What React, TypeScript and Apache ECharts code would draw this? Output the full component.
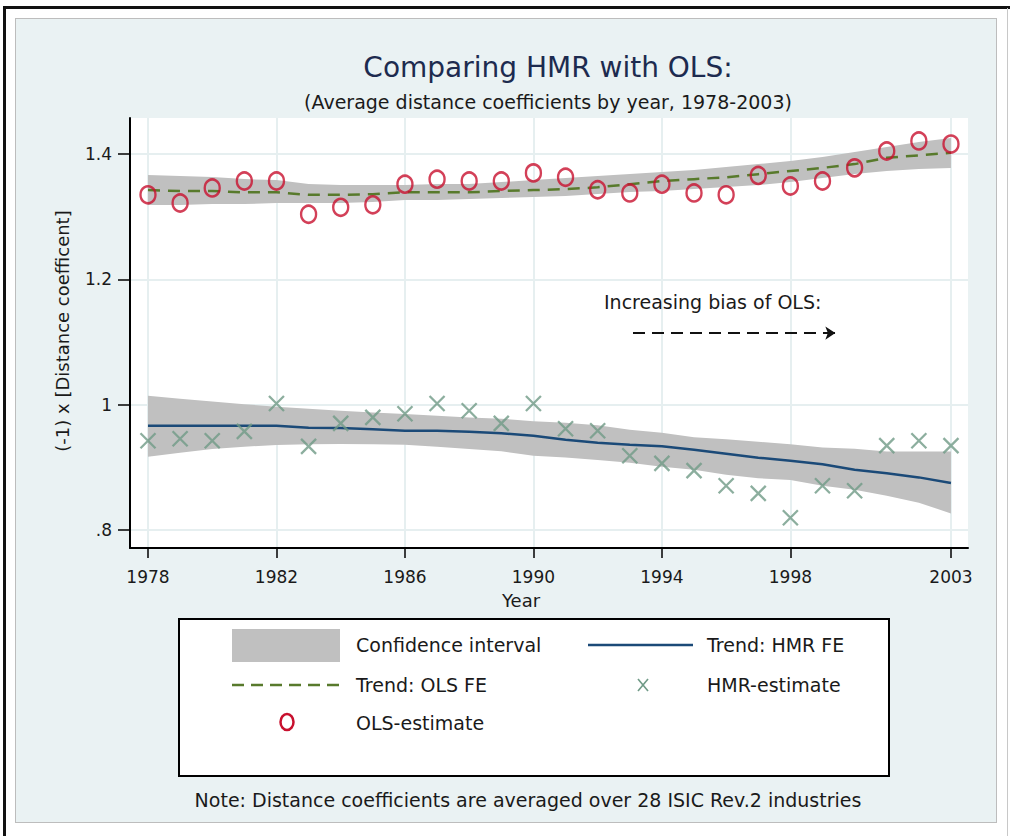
import React, { useEffect, useRef } from "react";
import * as echarts from "echarts";

const years = [1978, 1979, 1980, 1981, 1982, 1983, 1984, 1985, 1986, 1987, 1988, 1989, 1990, 1991, 1992, 1993, 1994, 1995, 1996, 1997, 1998, 1999, 2000, 2001, 2002, 2003];

const olsEstimate = [1.335, 1.322, 1.346, 1.357, 1.357, 1.304, 1.315, 1.319, 1.352, 1.36, 1.357, 1.357, 1.37, 1.363, 1.343, 1.338, 1.352, 1.338, 1.335, 1.366, 1.349, 1.357, 1.378, 1.405, 1.421, 1.416];
const olsTrend = [1.3425, 1.341, 1.341, 1.339, 1.339, 1.335, 1.335, 1.336, 1.339, 1.339, 1.339, 1.341, 1.3425, 1.344, 1.347, 1.352, 1.357, 1.36, 1.363, 1.368, 1.373, 1.378, 1.384, 1.394, 1.398, 1.402];
const olsUpper = [1.3665, 1.3649, 1.3633, 1.3601, 1.3585, 1.3521, 1.3505, 1.3505, 1.3505, 1.3521, 1.3521, 1.3553, 1.3585, 1.3617, 1.3649, 1.3681, 1.3713, 1.3745, 1.3793, 1.384, 1.3888, 1.3952, 1.4032, 1.4112, 1.4192, 1.4255];
const olsLower = [1.3186, 1.3186, 1.3202, 1.3202, 1.3218, 1.3218, 1.3218, 1.3234, 1.3266, 1.3266, 1.3282, 1.3298, 1.3314, 1.333, 1.3362, 1.3393, 1.3409, 1.3441, 1.3473, 1.3505, 1.3553, 1.3617, 1.3681, 1.3729, 1.3761, 1.3777];

const hmrEstimate = [0.9425, 0.9457, 0.9425, 0.9574, 1.002, 0.9334, 0.9702, 0.9797, 0.9856, 1.002, 0.9904, 0.9702, 1.002, 0.9617, 0.9585, 0.9186, 0.9063, 0.8947, 0.8707, 0.8584, 0.8196, 0.8707, 0.8627, 0.9346, 0.9425, 0.9346];
const hmrTrend = [0.9665, 0.9665, 0.9665, 0.9665, 0.9665, 0.9633, 0.9628, 0.9609, 0.9585, 0.9585, 0.9569, 0.9545, 0.9505, 0.9441, 0.9393, 0.9362, 0.9338, 0.9282, 0.9218, 0.9154, 0.9106, 0.905, 0.8962, 0.8907, 0.884, 0.875];
const hmrUpper = [1.0144, 1.0096, 1.0053, 1.0008, 0.9968, 0.9936, 0.9904, 0.9877, 0.9852, 0.9824, 0.9797, 0.9777, 0.9737, 0.9713, 0.9673, 0.9601, 0.9553, 0.9481, 0.9449, 0.9409, 0.937, 0.9318, 0.9298, 0.9255, 0.9255, 0.9255];
const hmrLower = [0.917, 0.9234, 0.9293, 0.933, 0.9357, 0.937, 0.9373, 0.937, 0.9362, 0.933, 0.9293, 0.9258, 0.9186, 0.9159, 0.9117, 0.9074, 0.901, 0.8962, 0.8883, 0.8827, 0.8798, 0.8707, 0.8643, 0.8547, 0.8436, 0.8265];

const xTickYears = [1978, 1982, 1986, 1990, 1994, 1998, 2003];
const yTickValues = [0.8, 1.0, 1.2, 1.4];
const arrowFrom = [1993.1, 1.1143];
const arrowTo = [1999.4, 1.1143];

const FF = "'DejaVu Sans', sans-serif";
const TXT = "#1a1a1a";
const C_BAND = "#c0c0c0";
const C_HMR_LINE = "#1b4a78";
const C_OLS_LINE = "#587a2c";
const C_HMR_PT = "#6f9a86";
const C_OLS_PT = "#c8102e";

function band(name: string, lower: number[], upper: number[]) {
  return {
    type: "custom",
    name,
    z: 1,
    silent: true,
    data: years.map((y, i) => [y, lower[i], upper[i]]),
    encode: { x: 0, y: [1, 2] },
    renderItem: (params: any, api: any) => {
      if (params.dataIndex !== 0) return null;
      const top = years.map((y, i) => api.coord([y, upper[i]]));
      const bottom = years.map((y, i) => api.coord([y, lower[i]])).reverse();
      return {
        type: "polygon",
        shape: { points: top.concat(bottom) },
        style: { fill: C_BAND, stroke: null },
      };
    },
  };
}

function txt(text: string, x: number, y: number, size: number, extra: any = {}) {
  return {
    type: "text",
    x,
    y,
    z: 100,
    silent: true,
    ...extra,
    style: {
      text,
      fontSize: size,
      fontFamily: FF,
      fill: extra.fill || TXT,
      align: extra.align || "left",
      verticalAlign: "middle",
    },
  };
}

export default function App() {
  const ref = useRef<HTMLDivElement>(null);

  useEffect(() => {
    if (!ref.current) return;
    const chart = echarts.init(ref.current, null, { renderer: "svg" });
    const option: any = {
      animation: false,
      backgroundColor: "transparent",
      grid: {
        left: 130,
        top: 118,
        width: 838,
        height: 430,
        show: true,
        backgroundColor: "#ffffff",
        borderWidth: 0,
      },
      xAxis: {
        type: "value",
        min: 1977.44,
        max: 2003.53,
        axisLine: { show: true, onZero: false, lineStyle: { color: "#000", width: 2 } },
        axisTick: { show: true, length: 10, customValues: xTickYears, lineStyle: { color: "#000", width: 1.5 } },
        axisLabel: {
          customValues: xTickYears,
          formatter: (v: number) => String(v),
          fontSize: 17,
          fontFamily: FF,
          color: TXT,
          margin: 20,
        },
        splitLine: { show: true, lineStyle: { color: "#e6eff0", width: 2 } },
      },
      yAxis: {
        type: "value",
        min: 0.7713,
        max: 1.4576,
        axisLine: { show: true, onZero: false, lineStyle: { color: "#000", width: 2 } },
        axisTick: { show: true, length: 12, customValues: yTickValues, lineStyle: { color: "#000", width: 1.5 } },
        axisLabel: {
          customValues: yTickValues,
          formatter: (v: number) => (Math.abs(v - 0.8) < 1e-6 ? ".8" : Math.abs(v - 1) < 1e-6 ? "1" : v.toFixed(1)),
          fontSize: 17,
          fontFamily: FF,
          color: TXT,
          margin: 18,
        },
        splitLine: { show: true, lineStyle: { color: "#e6eff0", width: 2 } },
      },
      series: [
        band("OLS band", olsLower, olsUpper),
        band("HMR band", hmrLower, hmrUpper),
        {
          type: "line",
          name: "Trend: HMR FE",
          z: 2,
          data: years.map((y, i) => [y, hmrTrend[i]]),
          showSymbol: false,
          symbol: "none",
          lineStyle: { color: C_HMR_LINE, width: 2.5 },
        },
        {
          type: "line",
          name: "Trend: OLS FE",
          z: 2,
          data: years.map((y, i) => [y, olsTrend[i]]),
          showSymbol: false,
          symbol: "none",
          lineStyle: { color: C_OLS_LINE, width: 2.5, type: [12, 8] },
          markLine: {
            silent: true,
            symbol: ["none", "arrow"],
            symbolSize: 10,
            label: { show: false },
            lineStyle: { color: "#111", width: 2, type: [12, 7] },
            itemStyle: { color: "#111" },
            data: [[{ coord: arrowFrom }, { coord: arrowTo }]],
          },
        },
        {
          type: "scatter",
          name: "HMR-estimate",
          z: 3,
          data: years.map((y, i) => [y, hmrEstimate[i]]),
          symbol: "path://M0,0L10,10M10,0L0,10",
          symbolSize: 15,
          itemStyle: { color: "rgba(0,0,0,0)", borderColor: C_HMR_PT, borderWidth: 2.3 },
        },
        {
          type: "scatter",
          name: "OLS-estimate",
          z: 4,
          data: years.map((y, i) => [y, olsEstimate[i]]),
          symbol: "circle",
          symbolSize: [15, 17],
          itemStyle: { color: "rgba(0,0,0,0)", borderColor: C_OLS_PT, borderWidth: 2.5 },
        },
      ],
      graphic: [
        txt("Comparing HMR with OLS:", 548, 67, 28, { align: "center", fill: "#1d2b4f" }),
        txt("(Average distance coefficients by year, 1978-2003)", 548, 102, 19, { align: "center" }),
        txt("(-1) x [Distance coefficent]", 62, 331, 18, { align: "center", rotation: Math.PI / 2 }),
        txt("Year", 521, 600, 18, { align: "center" }),
        txt("Increasing bias of OLS:", 604, 302, 19),
        {
          type: "rect",
          silent: true,
          shape: { x: 179, y: 619, width: 710, height: 157 },
          style: { fill: "#ffffff", stroke: "#000", lineWidth: 2 },
        },
        {
          type: "rect",
          silent: true,
          shape: { x: 232, y: 629, width: 108, height: 33 },
          style: { fill: C_BAND },
        },
        txt("Confidence interval", 356, 645, 19),
        {
          type: "line",
          silent: true,
          shape: { x1: 588, y1: 645, x2: 693, y2: 645 },
          style: { stroke: C_HMR_LINE, lineWidth: 2.5 },
        },
        txt("Trend: HMR FE", 707, 645, 19),
        {
          type: "line",
          silent: true,
          shape: { x1: 232, y1: 685, x2: 340, y2: 685 },
          style: { stroke: C_OLS_LINE, lineWidth: 2.5, lineDash: [12, 7] },
        },
        txt("Trend: OLS FE", 356, 685, 19),
        {
          type: "line",
          silent: true,
          shape: { x1: 638, y1: 679, x2: 648, y2: 691 },
          style: { stroke: C_HMR_PT, lineWidth: 1.6 },
        },
        {
          type: "line",
          silent: true,
          shape: { x1: 648, y1: 679, x2: 638, y2: 691 },
          style: { stroke: C_HMR_PT, lineWidth: 1.6 },
        },
        txt("HMR-estimate", 707, 685, 19),
        {
          type: "ellipse",
          silent: true,
          shape: { cx: 287, cy: 722, rx: 6.5, ry: 8 },
          style: { fill: "none", stroke: C_OLS_PT, lineWidth: 2.5 },
        },
        txt("OLS-estimate", 356, 723, 19),
        txt("Note: Distance coefficients are averaged over 28 ISIC Rev.2 industries", 528, 800, 19, { align: "center" }),
      ],
    };
    chart.setOption(option);
    return () => chart.dispose();
  }, []);

  return (
    <div style={{ position: "fixed", left: 0, top: 0, width: 1010, height: 836, background: "#ffffff", overflow: "hidden" }}>
      <div style={{ position: "absolute", left: 3, top: 6, width: 1007, height: 2.5, background: "#111" }} />
      <div style={{ position: "absolute", left: 3, top: 6, width: 2.5, height: 830, background: "#111" }} />
      <div style={{ position: "absolute", left: 1007, top: 8, width: 1, height: 828, background: "#c8c8c8" }} />
      <div
        style={{
          position: "absolute",
          left: 15,
          top: 18,
          width: 982,
          height: 805,
          boxSizing: "border-box",
          background: "#eaf2f3",
          border: "1px solid #bdbdbd",
        }}
      />
      <div ref={ref} style={{ position: "absolute", left: 0, top: 0, width: 1010, height: 836 }} />
    </div>
  );
}
